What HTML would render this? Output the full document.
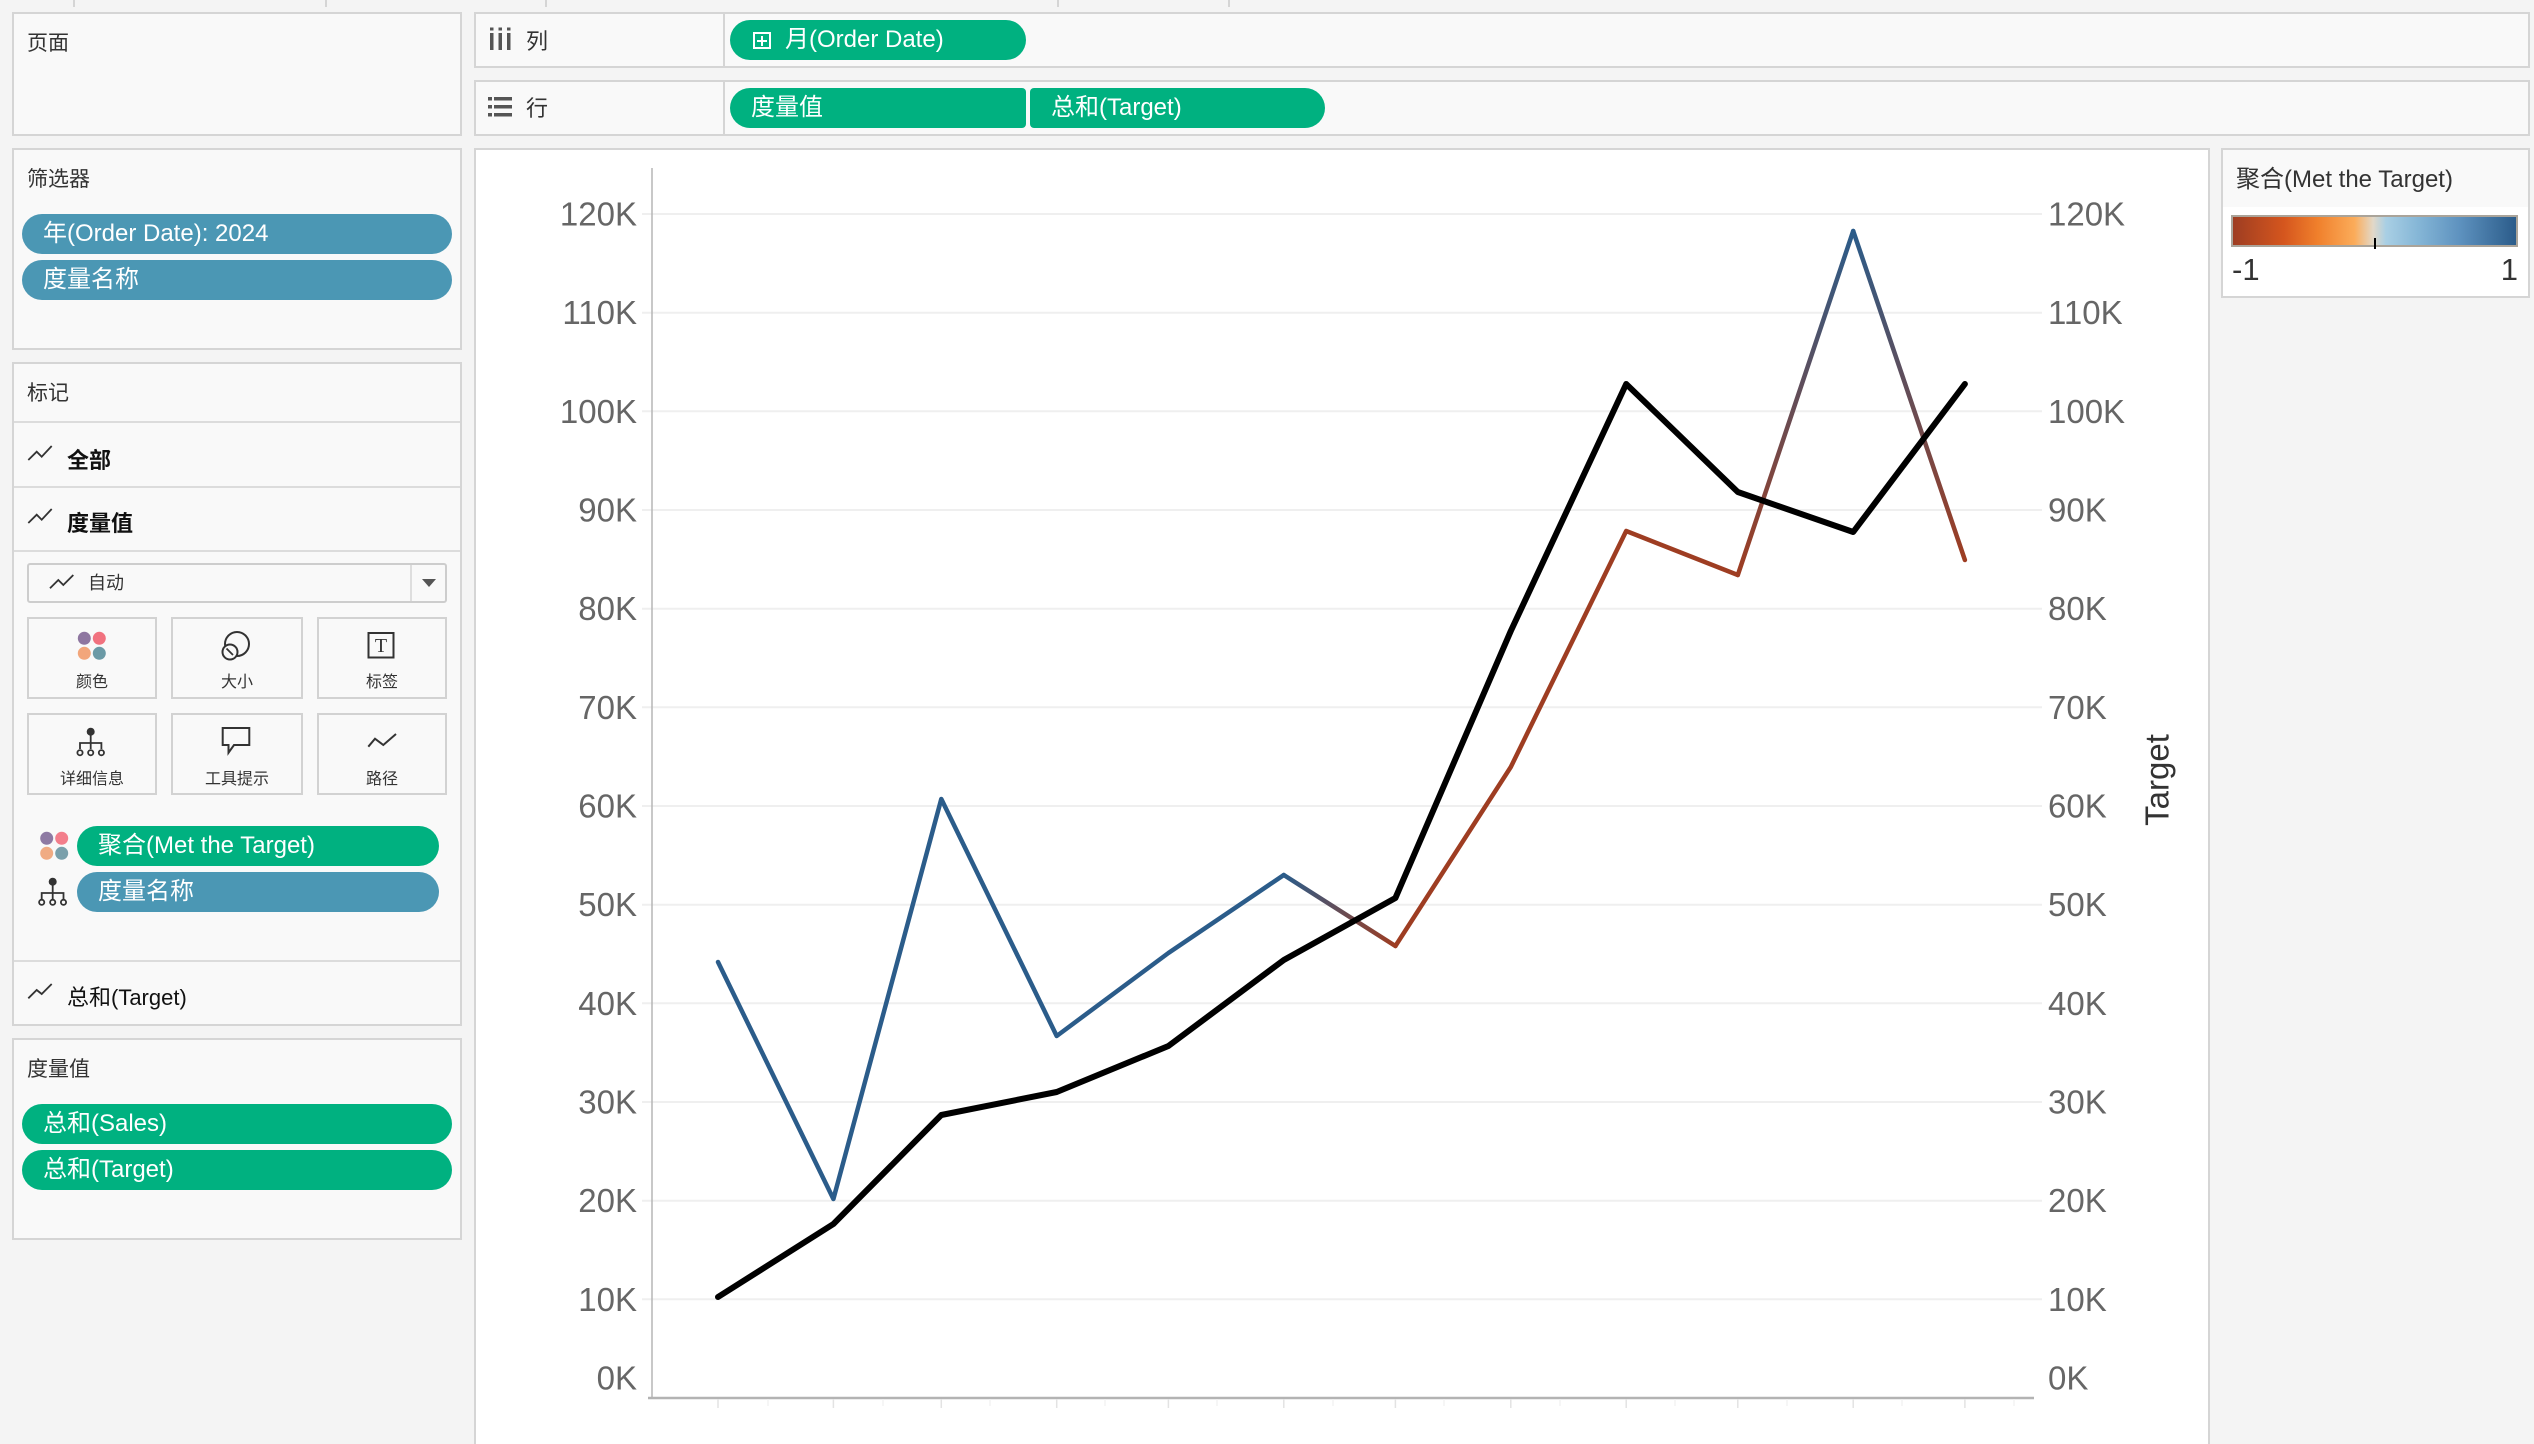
<!DOCTYPE html>
<html style="width:2534px;height:1444px;overflow:hidden;margin:0"><head><meta charset="utf-8">
<style>
html,body{margin:0;width:2534px;height:1444px;overflow:hidden}
body{background:#f4f4f4;position:relative;font-family:"Liberation Sans","Noto Sans CJK SC",sans-serif;}
.p{position:absolute;background:#f9f9f9;border:2px solid #d5d5d5;box-sizing:border-box}
.t{position:absolute;white-space:nowrap;color:#333;height:30px;line-height:30px}
.pill{position:absolute;color:#fff;font-size:24px;box-sizing:border-box;white-space:nowrap;height:40px;line-height:40px;padding-left:21px}
.g{background:#00b180}
.b{background:#4b97b4}
.dv{position:absolute;left:14px;width:446px;height:2px;background:#dcdcdc}
.btn{position:absolute;background:#f9f9f9;border:2px solid #d2d2d2;box-sizing:border-box}
.bl{position:absolute;font-size:16px;color:#333;text-align:center;height:22px;line-height:22px}
.vl{position:absolute;top:0;width:2px;height:7px;background:#d5d5d5}
</style></head><body>
<div class="vl" style="left:73px"></div><div class="vl" style="left:325px"></div><div class="vl" style="left:545px"></div><div class="vl" style="left:1057px"></div><div class="vl" style="left:1228px"></div>

<!-- page panel -->
<div class="p" style="left:12px;top:12px;width:450px;height:124px"></div>
<div class="t" style="left:27px;top:29px;font-size:21px">页面</div>

<!-- shelves -->
<div class="p" style="left:474px;top:12px;width:2056px;height:56px"></div>
<div style="position:absolute;left:723px;top:12px;width:2px;height:56px;background:#d5d5d5"></div>
<div class="t" style="left:526px;top:27px;font-size:22px">列</div>
<div class="pill g" style="left:730px;top:20px;width:296px;border-radius:20px;padding-left:55px">月(Order Date)</div>
<div style="position:absolute;left:753px;top:32px;width:18px;height:17px;border:2px solid #fff;box-sizing:border-box"></div>
<div style="position:absolute;left:757px;top:39.5px;width:10px;height:2px;background:#fff"></div>
<div style="position:absolute;left:761px;top:35.5px;width:2px;height:10px;background:#fff"></div>

<div class="p" style="left:474px;top:80px;width:2056px;height:56px"></div>
<div style="position:absolute;left:723px;top:80px;width:2px;height:56px;background:#d5d5d5"></div>
<div class="t" style="left:526px;top:94px;font-size:22px">行</div>
<div class="pill g" style="left:730px;top:88px;width:296px;border-radius:20px 4px 4px 20px">度量值</div>
<div class="pill g" style="left:1030px;top:88px;width:295px;border-radius:4px 20px 20px 4px">总和(Target)</div>

<!-- filters -->
<div class="p" style="left:12px;top:148px;width:450px;height:202px"></div>
<div class="t" style="left:27px;top:165px;font-size:21px">筛选器</div>
<div class="pill b" style="left:22px;top:214px;width:430px;border-radius:20px">年(Order Date): 2024</div>
<div class="pill b" style="left:22px;top:260px;width:430px;border-radius:20px">度量名称</div>

<!-- marks -->
<div class="p" style="left:12px;top:362px;width:450px;height:664px"></div>
<div class="t" style="left:27px;top:379px;font-size:21px">标记</div>
<div class="dv" style="top:421px"></div>
<div class="t" style="left:67px;top:446px;font-size:22px;font-weight:bold;color:#111">全部</div>
<div class="dv" style="top:486px"></div>
<div class="t" style="left:67px;top:509px;font-size:22px;font-weight:bold;color:#111">度量值</div>
<div class="dv" style="top:550px"></div>
<div style="position:absolute;left:27px;top:563px;width:420px;height:40px;border:2px solid #cdcdcd;border-radius:3px;box-sizing:border-box;background:#f9f9f9"></div>
<div style="position:absolute;left:410px;top:565px;width:2px;height:36px;background:#dedede"></div>
<div class="t" style="left:88px;top:568px;font-size:18px">自动</div>
<div class="btn" style="left:27px;top:617px;width:130px;height:82px"></div>
<div class="btn" style="left:171px;top:617px;width:132px;height:82px"></div>
<div class="btn" style="left:317px;top:617px;width:130px;height:82px"></div>
<div class="btn" style="left:27px;top:713px;width:130px;height:82px"></div>
<div class="btn" style="left:171px;top:713px;width:132px;height:82px"></div>
<div class="btn" style="left:317px;top:713px;width:130px;height:82px"></div>
<div class="bl" style="left:27px;width:130px;top:672px">颜色</div>
<div class="bl" style="left:171px;width:132px;top:672px">大小</div>
<div class="bl" style="left:317px;width:130px;top:672px">标签</div>
<div class="bl" style="left:27px;width:130px;top:769px">详细信息</div>
<div class="bl" style="left:171px;width:132px;top:769px">工具提示</div>
<div class="bl" style="left:317px;width:130px;top:769px">路径</div>
<div class="pill g" style="left:77px;top:826px;width:362px;border-radius:20px">聚合(Met the Target)</div>
<div class="pill b" style="left:77px;top:872px;width:362px;border-radius:20px">度量名称</div>
<div class="dv" style="top:960px"></div>
<div class="t" style="left:67px;top:983px;font-size:22px;color:#111">总和(Target)</div>

<!-- measure values -->
<div class="p" style="left:12px;top:1038px;width:450px;height:202px"></div>
<div class="t" style="left:27px;top:1055px;font-size:21px">度量值</div>
<div class="pill g" style="left:22px;top:1104px;width:430px;border-radius:20px">总和(Sales)</div>
<div class="pill g" style="left:22px;top:1150px;width:430px;border-radius:20px">总和(Target)</div>

<!-- chart panel -->
<div class="p" style="left:474px;top:148px;width:1736px;height:1296px;background:#fff;border-bottom:none"></div>

<!-- legend -->
<div class="p" style="left:2221px;top:148px;width:309px;height:150px;background:#fff"></div>
<div style="position:absolute;left:2223px;top:150px;width:305px;height:57px;background:#f9f9f9"></div>
<div class="t" style="left:2236px;top:165px;font-size:24px">聚合(Met the Target)</div>
<div style="position:absolute;left:2231px;top:215px;width:287px;height:32px;border:2px solid #aaa49a;box-sizing:border-box;background:linear-gradient(to right,#9e3d22 0%,#d5561e 18%,#f0802c 30%,#fbac5a 43%,#e2d8c8 49.5%,#a9cfe4 54%,#86b7d7 65%,#5e92bf 80%,#2b5c8a 100%)"></div>
<div style="position:absolute;left:2374px;top:238px;width:2px;height:11px;background:#000"></div>
<div class="t" style="left:2232px;top:253px;height:34px;line-height:34px;font-size:31px">-1</div>
<div class="t" style="left:2418px;width:100px;text-align:right;top:253px;height:34px;line-height:34px;font-size:31px">1</div>

<svg style="position:absolute;left:0;top:0" width="2534" height="1444" viewBox="0 0 2534 1444" font-family="Liberation Sans, sans-serif">
<defs>
<linearGradient id="g67" gradientUnits="userSpaceOnUse" x1="1283.8" y1="875" x2="1395.4" y2="946"><stop offset="0" stop-color="#2b5c8a"/><stop offset="1" stop-color="#9e3d22"/></linearGradient>
<linearGradient id="g1011" gradientUnits="userSpaceOnUse" x1="1737.8" y1="575" x2="1853.2" y2="231"><stop offset="0" stop-color="#9e3d22"/><stop offset="1" stop-color="#2b5c8a"/></linearGradient>
<linearGradient id="g1112" gradientUnits="userSpaceOnUse" x1="1853.2" y1="231" x2="1964.9" y2="560"><stop offset="0" stop-color="#2b5c8a"/><stop offset="1" stop-color="#9e3d22"/></linearGradient>
</defs>
<!-- icons -->
<g fill="none" stroke="#333" stroke-width="1.8">
<polyline points="28.3,460 36.7,451.7 41.7,456.7 51.7,446"/>
<polyline points="28.3,523 36.7,514.7 41.7,519.7 51.7,509"/>
<polyline points="50,588.3 58.3,580 63.3,585 73.3,575"/>
<polyline points="28.3,998.3 36.7,990 41.7,994 51.7,984"/>
<polyline points="368.3,746.7 375,738.7 383.3,745 396,734" stroke-width="2"/>
<path d="M222.7,728 H249.3 V745 H234 L228.5,752.7 V745 H222.7 Z" stroke-width="2"/>
<rect x="368.5" y="633" width="25" height="24.5" stroke-width="2"/>
<circle cx="237" cy="644" r="12" stroke-width="2"/>
</g>
<circle cx="230" cy="652" r="7.5" fill="#f9f9f9" stroke="#333" stroke-width="2"/>
<line x1="226.5" y1="648.5" x2="233" y2="655" stroke="#333" stroke-width="1.8"/>
<text x="381" y="652" font-family="Liberation Serif, serif" font-size="20" fill="#333" text-anchor="middle">T</text>
<polygon points="422,579 436,579 429,587" fill="#555"/>
<g>
<circle cx="84.3" cy="638.3" r="6.5" fill="#8e76a0"/><circle cx="99.3" cy="638.3" r="6.5" fill="#f1727f"/>
<circle cx="84.3" cy="653.3" r="6.5" fill="#f2a67b"/><circle cx="99.3" cy="653.3" r="6.5" fill="#6b9aa6"/>
<circle cx="46.7" cy="838.3" r="6.5" fill="#8e7aa3"/><circle cx="61.7" cy="838.3" r="6.5" fill="#f37e8b"/>
<circle cx="46.7" cy="853.3" r="6.5" fill="#f0ab83"/><circle cx="61.7" cy="853.3" r="6.5" fill="#7aa0ab"/>
</g>
<g stroke="#333" stroke-width="1.8" fill="none">
<line x1="90.7" y1="732" x2="90.7" y2="749"/><path d="M80,749 V743 H101.4 V749"/>
<circle cx="80" cy="752.7" r="2.6"/><circle cx="90.7" cy="752.7" r="2.6"/><circle cx="101.4" cy="752.7" r="2.6"/>
<line x1="52.7" y1="882" x2="52.7" y2="899"/><path d="M41.7,899 V893 H63.5 V899"/>
<circle cx="41.7" cy="902.3" r="2.6"/><circle cx="52.7" cy="902.3" r="2.6"/><circle cx="63.5" cy="902.3" r="2.6"/>
</g>
<circle cx="90.7" cy="731.7" r="4" fill="#333"/>
<circle cx="52.7" cy="881.7" r="4" fill="#333"/>
<!-- shelf icons -->
<g fill="#555">
<rect x="490" y="33" width="3.5" height="17"/><rect x="498.5" y="33" width="3.5" height="17"/><rect x="507" y="33" width="3.5" height="17"/>
<rect x="490" y="27.5" width="3.5" height="3"/><rect x="498.5" y="27.5" width="3.5" height="3"/><rect x="507" y="27.5" width="3.5" height="3"/>
<rect x="488" y="97" width="4" height="3.5"/><rect x="494" y="97" width="18" height="3.5"/>
<rect x="488" y="105" width="4" height="3.5"/><rect x="494" y="105" width="18" height="3.5"/>
<rect x="488" y="113" width="4" height="3.5"/><rect x="494" y="113" width="18" height="3.5"/>
</g>
<!-- chart grid -->
<g stroke="#efefef" stroke-width="2">
<line x1="642" x2="2042" y1="1299.3" y2="1299.3"/><line x1="642" x2="2042" y1="1200.7" y2="1200.7"/>
<line x1="642" x2="2042" y1="1102" y2="1102"/><line x1="642" x2="2042" y1="1003.3" y2="1003.3"/>
<line x1="642" x2="2042" y1="904.7" y2="904.7"/><line x1="642" x2="2042" y1="806" y2="806"/>
<line x1="642" x2="2042" y1="707.3" y2="707.3"/><line x1="642" x2="2042" y1="608.7" y2="608.7"/>
<line x1="642" x2="2042" y1="510" y2="510"/><line x1="642" x2="2042" y1="411.3" y2="411.3"/>
<line x1="642" x2="2042" y1="312.7" y2="312.7"/><line x1="642" x2="2042" y1="214" y2="214"/>
</g>
<line x1="652" y1="168" x2="652" y2="1398" stroke="#b5b5b5" stroke-width="1.5"/>
<line x1="648" y1="1398" x2="2034" y2="1398" stroke="#b3b3b3" stroke-width="2.5"/>
<g stroke="#e3e3e3" stroke-width="1.5">
<line x1="718" x2="718" y1="1399" y2="1408"/><line x1="833.4" x2="833.4" y1="1399" y2="1408"/><line x1="941.3" x2="941.3" y1="1399" y2="1408"/><line x1="1056.7" x2="1056.7" y1="1399" y2="1408"/><line x1="1168.4" x2="1168.4" y1="1399" y2="1408"/><line x1="1283.8" x2="1283.8" y1="1399" y2="1408"/><line x1="1395.4" x2="1395.4" y1="1399" y2="1408"/><line x1="1510.8" x2="1510.8" y1="1399" y2="1408"/><line x1="1626.2" x2="1626.2" y1="1399" y2="1408"/><line x1="1737.8" x2="1737.8" y1="1399" y2="1408"/><line x1="1853.2" x2="1853.2" y1="1399" y2="1408"/><line x1="1964.9" x2="1964.9" y1="1399" y2="1408"/>
</g>
<g stroke="#efefef" stroke-width="1.2">
<line x1="768" x2="768" y1="1399" y2="1406"/><line x1="883" x2="883" y1="1399" y2="1406"/><line x1="990" x2="990" y1="1399" y2="1406"/><line x1="1105" x2="1105" y1="1399" y2="1406"/><line x1="1217" x2="1217" y1="1399" y2="1406"/><line x1="1333" x2="1333" y1="1399" y2="1406"/><line x1="1444" x2="1444" y1="1399" y2="1406"/><line x1="1560" x2="1560" y1="1399" y2="1406"/><line x1="1675" x2="1675" y1="1399" y2="1406"/><line x1="1787" x2="1787" y1="1399" y2="1406"/><line x1="1902" x2="1902" y1="1399" y2="1406"/><line x1="2014" x2="2014" y1="1399" y2="1406"/>
</g>
<g font-size="33" fill="#666" text-anchor="end" dominant-baseline="central">
<text x="637" y="214">120K</text><text x="637" y="312.7">110K</text><text x="637" y="411.3">100K</text>
<text x="637" y="510">90K</text><text x="637" y="608.7">80K</text><text x="637" y="707.3">70K</text>
<text x="637" y="806">60K</text><text x="637" y="904.7">50K</text><text x="637" y="1003.3">40K</text>
<text x="637" y="1102">30K</text><text x="637" y="1200.7">20K</text><text x="637" y="1299.3">10K</text>
<text x="637" y="1378">0K</text>
</g>
<g font-size="33" fill="#666" text-anchor="start" dominant-baseline="central">
<text x="2048" y="214">120K</text><text x="2048" y="312.7">110K</text><text x="2048" y="411.3">100K</text>
<text x="2048" y="510">90K</text><text x="2048" y="608.7">80K</text><text x="2048" y="707.3">70K</text>
<text x="2048" y="806">60K</text><text x="2048" y="904.7">50K</text><text x="2048" y="1003.3">40K</text>
<text x="2048" y="1102">30K</text><text x="2048" y="1200.7">20K</text><text x="2048" y="1299.3">10K</text>
<text x="2048" y="1378">0K</text>
</g>
<text x="0" y="0" font-size="33" fill="#333" text-anchor="middle" dominant-baseline="central" transform="translate(2157,780) rotate(-90)">Target</text>
<!-- sales -->
<g fill="none" stroke-width="4.5" stroke-linecap="round" stroke-linejoin="round">
<polyline stroke="#2b5c8a" points="718,962 833.4,1199 941.3,799 1056.7,1036 1168.4,953 1283.8,875"/>
<line stroke="url(#g67)" x1="1283.8" y1="875" x2="1395.4" y2="946"/>
<polyline stroke="#9e3d22" points="1395.4,946 1510.8,767 1626.2,531 1737.8,575"/>
<line stroke="url(#g1011)" x1="1737.8" y1="575" x2="1853.2" y2="231"/>
<line stroke="url(#g1112)" x1="1853.2" y1="231" x2="1964.9" y2="560"/>
</g>
<!-- target -->
<polyline fill="none" stroke="#000" stroke-width="6" stroke-linecap="round" stroke-linejoin="round" points="718,1297 833.4,1224 941.3,1115 1056.7,1092 1168.4,1046 1283.8,960 1395.4,898 1510.8,631 1626.2,384 1737.8,492 1853.2,532 1964.9,384"/>
</svg>
</body></html>
